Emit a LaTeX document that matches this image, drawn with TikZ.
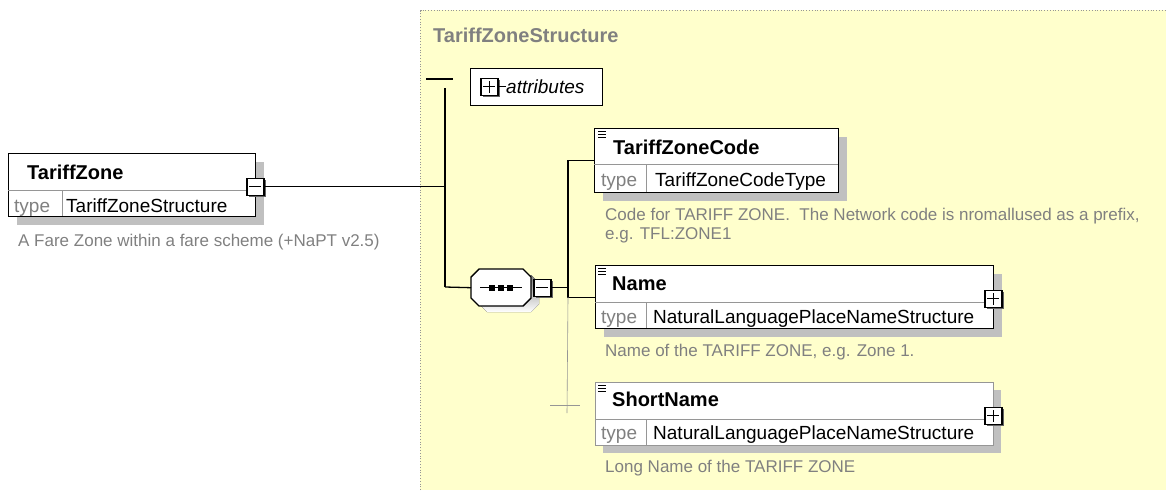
\documentclass[tikz,border=0pt]{standalone}
\usepackage{fontspec}
\setmainfont{Liberation Sans}
\usetikzlibrary{shadows}
\definecolor{panel}{RGB}{255,255,204}
\definecolor{shade}{RGB}{192,192,192}
\definecolor{txtgray}{RGB}{128,128,128}
\definecolor{divgray}{RGB}{150,150,150}
\definecolor{icoshade}{RGB}{100,100,100}
\begin{document}
\begin{tikzpicture}[x=1pt,y=-1pt,
  elembox/.style={draw=black, line width=1.4pt, fill=white, rectangle, inner sep=0pt, anchor=north west,
     general shadow={fill=shade, shadow xshift=8pt, shadow yshift=-8pt}},
  optbox/.style={elembox, draw=divgray, line width=0.8pt},
  iconbox/.style={draw=black, line width=1.6pt, fill=white, rectangle, inner sep=0pt, minimum size=17pt, anchor=north west,
     general shadow={fill=icoshade, shadow xshift=2pt, shadow yshift=-2pt}},
  plainbox/.style={draw=black, line width=1.4pt, fill=white, rectangle, inner sep=0pt, anchor=north west},
  conn/.style={draw=black, line width=1.3pt},
  thinconn/.style={draw=divgray, line width=0.6pt},
  divline/.style={draw=divgray, line width=1pt},
  sign/.style={line width=1.3pt},
  ttl/.style={anchor=base west, inner sep=0pt, font=\fontsize{20}{24}\selectfont\bfseries},
  typelbl/.style={anchor=base west, inner sep=0pt, font=\fontsize{19}{22}\selectfont, text=txtgray},
  typeval/.style={anchor=base west, inner sep=0pt, font=\fontsize{19}{22}\selectfont},
  desc/.style={anchor=base west, inner sep=0pt, font=\fontsize{17}{20}\selectfont, text=txtgray},
]
\useasboundingbox (0,0) rectangle (1166,490);

% panel
\fill[panel] (420,10) rectangle (1166,490);
\draw[divgray, dotted, line width=0.8pt] (420.5,490) -- (420.5,10.5) -- (1166,10.5);
\node[anchor=base west, inner sep=0pt, font=\fontsize{20}{24}\selectfont\bfseries, text=txtgray] (ptitle) at (433,42) {TariffZoneStructure};

% TariffZone element
\node[elembox, minimum width=247pt, minimum height=63pt] (tz) at (8,153) {};
\draw[divline] (8,190) -- (255,190);
\draw[divline] (62,190) -- (62,216);
\node[ttl] (tzt) at (27,179) {TariffZone};
\node[typelbl] (tzl) at (14,212) {type};
\node[typeval] (tzv) at (66,212) {TariffZoneStructure};
\node[desc] (tzd) at (18,246) {A Fare Zone within a fare scheme (+NaPT v2.5)};
\node[iconbox] (tzm) at (246,177.5) {};
\draw[sign] ([xshift=-6pt]tzm.center) -- ([xshift=6pt]tzm.center);

% spine
\coordinate (sx) at (445,186);
\coordinate (stop) at (445,88);
\coordinate (sbot) at (445,287);
\coordinate (hl) at (426,79);
\coordinate (hr) at (453,79);
\draw[conn] (tzm.east) -- (tzm.east -| sx);
\draw[conn] (stop) -- (sbot);
\draw[conn] (hl) -- (hr);

% attributes
\node[plainbox, minimum width=132pt, minimum height=37pt] (attr) at (470,68) {};
\node[iconbox] (attrp) at (480,77.5) {};
\draw[sign] ([xshift=-6pt]attrp.center) -- ([xshift=6pt]attrp.center)
  ([yshift=-6pt]attrp.center) -- ([yshift=6pt]attrp.center);
\node[anchor=base west, inner sep=0pt, font=\fontsize{19}{22}\selectfont\itshape] (attrt) at (506,93) {attributes};
\draw[sign] (attrp.east) -- (attrt.west |- attrp.east);

% sequence (octagon)
\fill[shade] (487,275) -- (531,275) -- (539,283) -- (539,304) -- (531,312) -- (487,312) -- (479,304) -- (479,283) -- cycle;
\draw[line width=1.4pt, fill=white] (479,269) -- (523,269) -- (531,277) -- (531,298) -- (523,306) -- (479,306) -- (471,298) -- (471,277) -- cycle;
\node[rectangle, inner sep=0pt, minimum width=60pt, minimum height=37pt, anchor=north west] (seq) at (471,269) {};
\draw[sign] ([xshift=-21pt]seq.center) -- ([xshift=21pt]seq.center);
\foreach \dx in {-9,0,9} \fill ([xshift=\dx pt]seq.center) ++(-3,-3) rectangle ++(6,6);
\draw[conn] (sbot) -- (seq.west);
\node[iconbox] (seqm) at (533,278.5) {};
\draw[sign] ([xshift=-6pt]seqm.center) -- ([xshift=6pt]seqm.center);

% TariffZoneCode
\node[elembox, minimum width=244pt, minimum height=64pt] (code) at (594,128) {};
\draw[divline] (594,164) -- (838,164);
\draw[divline] (646,164) -- (646,192);
\draw[line width=1.2pt] (598,131.5) -- (606,131.5) (598,134.5) -- (606,134.5) (598,137.5) -- (606,137.5);
\node[ttl] (codet) at (613,154) {TariffZoneCode};
\node[typelbl] (codel) at (601,186) {type};
\node[typeval] (codev) at (655,186) {TariffZoneCodeType};
\node[desc] (coded) at (605,220) {Code for TARIFF ZONE.\ \ The Network code is nromallused as a prefix,};
\node[desc] (coded2) at (605,239) {e.g. TFL:ZONE1};

% Name
\node[elembox, minimum width=398pt, minimum height=63pt] (name) at (595,265) {};
\draw[divline] (595,302) -- (993,302);
\draw[divline] (646,302) -- (646,328);
\draw[line width=1.2pt] (598,268.5) -- (606,268.5) (598,271.5) -- (606,271.5) (598,274.5) -- (606,274.5);
\node[ttl] (namet) at (612,290) {Name};
\node[typelbl] (namel) at (601,323) {type};
\node[typeval] (namev) at (653,323) {NaturalLanguagePlaceNameStructure};
\node[desc] (named) at (605,356) {Name of the TARIFF ZONE, e.g. Zone 1.};
\node[iconbox] (namep) at (984,289.5) {};
\draw[sign] ([xshift=-6pt]namep.center) -- ([xshift=6pt]namep.center)
  ([yshift=-6pt]namep.center) -- ([yshift=6pt]namep.center);

% ShortName
\node[optbox, minimum width=398pt, minimum height=63pt] (sname) at (595,382) {};
\draw[divline] (595,419) -- (993,419);
\draw[divline] (646,419) -- (646,445);
\draw[line width=1.2pt] (598,385.5) -- (606,385.5) (598,388.5) -- (606,388.5) (598,391.5) -- (606,391.5);
\node[ttl] (snamet) at (612,406) {ShortName};
\node[typelbl] (snamel) at (601,439) {type};
\node[typeval] (snamev) at (653,439) {NaturalLanguagePlaceNameStructure};
\node[desc] (snamed) at (605,472) {Long Name of the TARIFF ZONE};
\node[iconbox] (snamep) at (984,406.5) {};
\draw[sign] ([xshift=-6pt]snamep.center) -- ([xshift=6pt]snamep.center)
  ([yshift=-6pt]snamep.center) -- ([yshift=6pt]snamep.center);

% branch connectors
\coordinate (bx) at (568,287);
\coordinate (cross) at (567,405);
\draw[conn] (seqm.east) -- (seqm.east -| bx);
\draw[conn] (code.west) -| (bx |- name.west) -- (name.west);
\draw[thinconn] (bx |- name.west) -- ([yshift=-8pt]cross);
\draw[thinconn] ([xshift=-17pt]cross) -- ([xshift=13pt]cross);
\end{tikzpicture}
\end{document}
